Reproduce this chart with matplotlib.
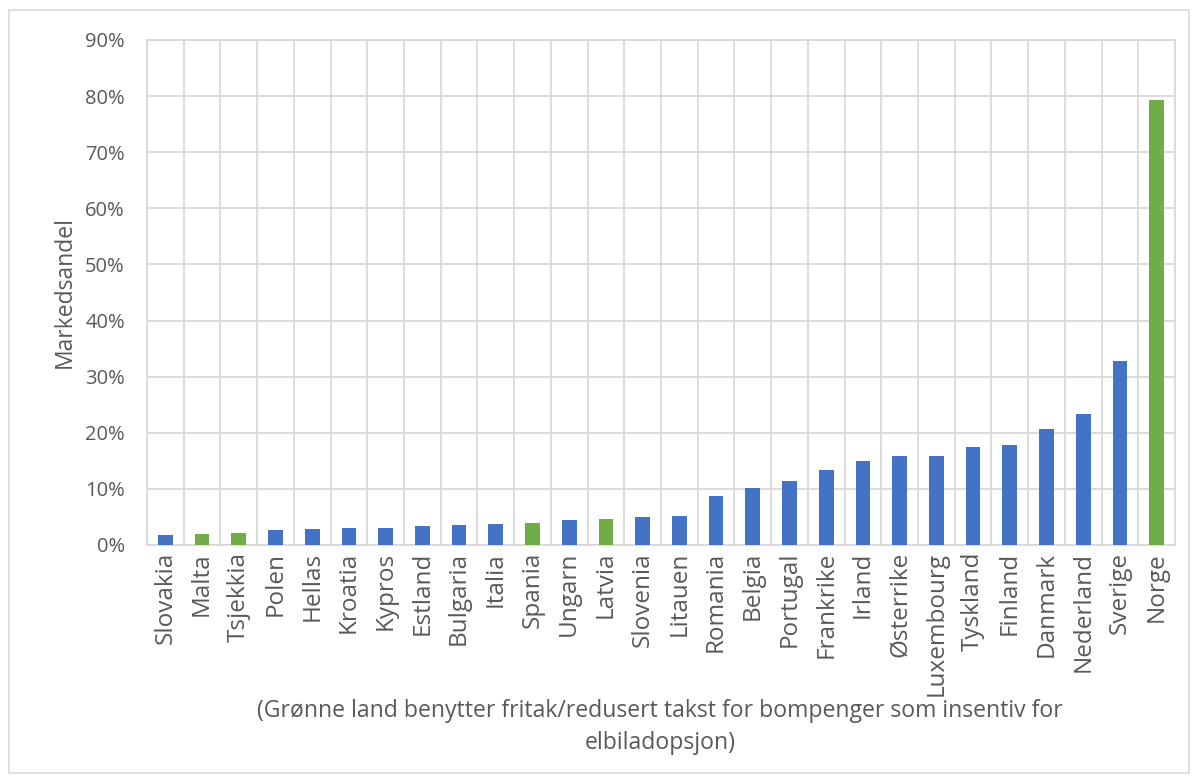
import matplotlib
matplotlib.use("Agg")
import matplotlib.pyplot as plt
from matplotlib.patches import Rectangle
from matplotlib.ticker import FuncFormatter, MultipleLocator

countries = ["Slovakia", "Malta", "Tsjekkia", "Polen", "Hellas", "Kroatia", "Kypros",
             "Estland", "Bulgaria", "Italia", "Spania", "Ungarn", "Latvia", "Slovenia",
             "Litauen", "Romania", "Belgia", "Portugal", "Frankrike", "Irland",
             "Østerrike", "Luxembourg", "Tyskland", "Finland", "Danmark", "Nederland",
             "Sverige", "Norge"]
share = [1.85, 2.0, 2.15, 2.6, 2.9, 3.0, 3.1, 3.3, 3.5, 3.8, 4.0, 4.5, 4.7, 5.0,
         5.1, 8.8, 10.2, 11.4, 13.3, 14.9, 15.8, 15.9, 17.4, 17.8, 20.7, 23.4,
         32.8, 79.3]
toll_incentive = {"Malta", "Tsjekkia", "Spania", "Latvia", "Norge"}

BLUE = "#4472C4"
GREEN = "#70AD47"
GRID = "#D9D9D9"
TEXT = "#595959"

plt.rcParams["font.family"] = ["Open Sans", "DejaVu Sans"]

fig = plt.figure(figsize=(11.99, 7.82), dpi=100)
ax = fig.add_axes([147 / 1199, 1 - 545 / 782, (1175 - 147) / 1199, (545 - 40) / 782])

x = list(range(len(countries)))
colors = [GREEN if c in toll_incentive else BLUE for c in countries]
ax.bar(x, share, width=0.4, color=colors, zorder=3)

ax.set_xlim(-0.5, len(countries) - 0.5)
ax.set_ylim(0, 90)
ax.yaxis.set_major_locator(MultipleLocator(10))
ax.yaxis.set_major_formatter(FuncFormatter(lambda v, _: f"{v:.0f}%"))
ax.set_xticks(x)
ax.set_xticklabels(countries, rotation=90, fontsize=17.5, color=TEXT)
ax.set_xticks([i + 0.5 for i in range(-1, len(countries))], minor=True)

ax.grid(axis="y", which="major", color=GRID, linewidth=1.3, zorder=0)
ax.grid(axis="x", which="minor", color=GRID, linewidth=1.3, zorder=0)
ax.tick_params(axis="both", which="both", length=0)
ax.tick_params(axis="y", labelsize=14.5, labelcolor=TEXT, pad=16)
ax.tick_params(axis="x", pad=5)

for side in ("top", "right", "left", "bottom"):
    ax.spines[side].set_color(GRID)
    ax.spines[side].set_linewidth(1.3)

ax.set_ylabel("Markedsandel", fontsize=16.5, color=TEXT, labelpad=6)
fig.text(660 / 1199, 1 - 727 / 782,
         "(Grønne land benytter fritak/redusert takst for bompenger som insentiv for\nelbiladopsjon)",
         ha="center", va="center", fontsize=16.6, color=TEXT, linespacing=1.4)

fig.patches.append(Rectangle((9 / 1199, 9 / 782), 1180 / 1199, 763 / 782,
                             transform=fig.transFigure, fill=False,
                             edgecolor=GRID, linewidth=1.2))

fig.savefig("out.png", dpi=100, facecolor="white")
